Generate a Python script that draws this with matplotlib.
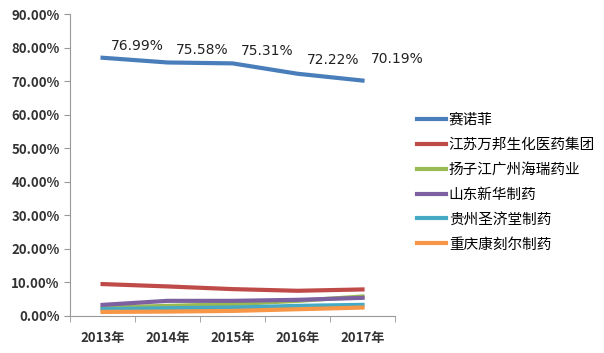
import matplotlib.pyplot as plt
from matplotlib.ticker import FuncFormatter

plt.rcParams['font.family'] = ['Noto Sans CJK SC', 'DejaVu Sans']

years = ['2013年', '2014年', '2015年', '2016年', '2017年']
names = ['赛诺菲', '江苏万邦生化医药集团', '扬子江广州海瑞药业', '山东新华制药', '贵州圣济堂制药', '重庆康刻尔制药']
sanofi = [76.99, 75.58, 75.31, 72.22, 70.19]
wanbang = [9.5, 8.8, 8.0, 7.5, 7.9]
yangzijiang = [2.5, 3.0, 3.5, 4.5, 5.8]
xinhua = [3.3, 4.5, 4.5, 4.8, 5.4]
shengjitang = [2.0, 2.3, 2.5, 3.0, 3.3]
kangkeer = [1.2, 1.3, 1.5, 2.0, 2.5]
label_lift = [3.6, 3.6, 3.6, 4.2, 6.5]
colors = ['#4A7EBB', '#BE4B48', '#98B954', '#7D60A0', '#46AAC5', '#F79646']

fig = plt.figure(figsize=(6.04, 3.53), dpi=100)
ax = fig.add_axes([0.116, 0.105, 0.538, 0.855])

series = [sanofi, wanbang, yangzijiang, xinhua, shengjitang, kangkeer]
x = range(len(years))
for vals, name, c in zip(series, names, colors):
    ax.plot(x, vals, color=c, linewidth=3, label=name)

# value labels for the top line
for i, v in enumerate(sanofi):
    ax.text(i + 0.54, v + label_lift[i], f'{v:.2f}%', ha='center', va='center',
            fontsize=10, color='#222222', family='DejaVu Sans')

ax.set_ylim(0, 90)
ax.set_yticks(range(0, 91, 10))
ax.yaxis.set_major_formatter(FuncFormatter(lambda v, p: f'{v:.2f}%'))
ax.set_xlim(-0.5, 4.5)
ax.set_xticks(x)
ax.set_xticklabels(years)
ax.set_xticks([i - 0.5 for i in range(6)], minor=True)
ax.tick_params(axis='x', which='major', length=0, labelsize=9.5, pad=11)
ax.tick_params(axis='x', which='minor', length=4, color='#999999')
ax.tick_params(axis='y', length=4, color='#999999', labelsize=9.5)
for lab in ax.get_xticklabels() + ax.get_yticklabels():
    lab.set_fontweight('bold')
    lab.set_color('#333333')
for s in ['top', 'right']:
    ax.spines[s].set_visible(False)
for s in ['left', 'bottom']:
    ax.spines[s].set_color('#999999')

fig.legend(loc='center left', bbox_to_anchor=(0.69, 0.484), frameon=False, fontsize=10.5,
           handlelength=2.0, handletextpad=0.2, labelspacing=0.75,
           borderpad=0, borderaxespad=0)

fig.savefig('out.png', dpi=100)
